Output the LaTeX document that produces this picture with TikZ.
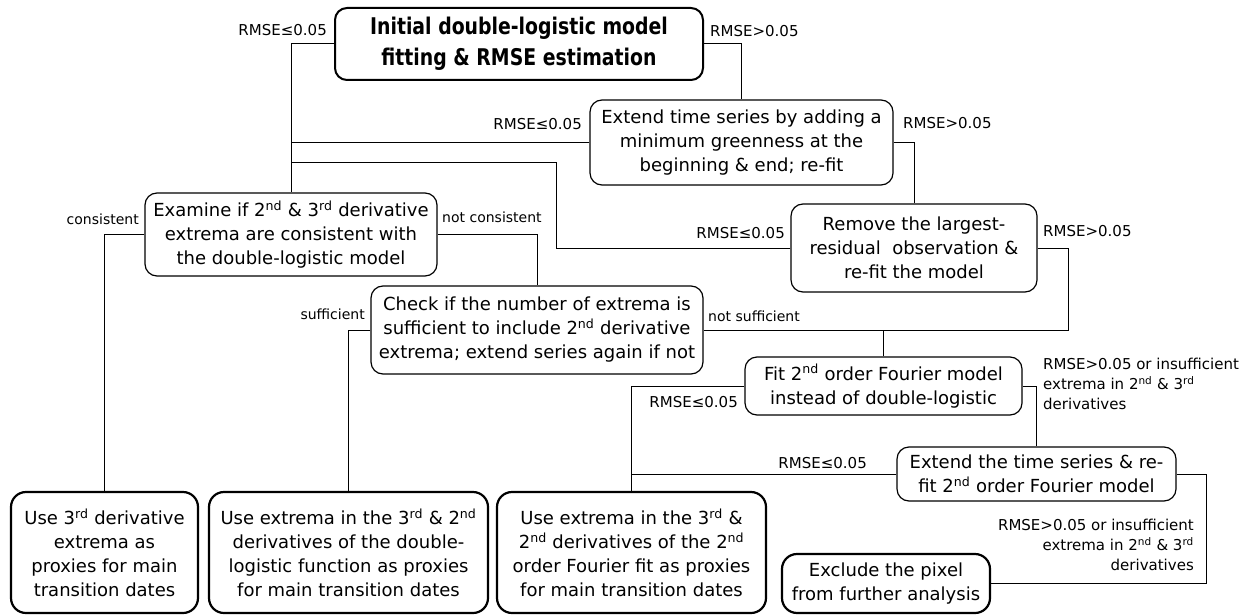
\documentclass[tikz,border=0pt]{standalone}
\usepackage{fontspec}
\setmainfont{DejaVu Sans}
\newfontfamily\titlefont{DejaVu Sans}[FakeStretch=0.82]
\begin{document}
\begin{tikzpicture}[x=1pt,y=-1pt,
  box/.style={draw=black, line width=1.2pt, rounded corners=12pt, fill=white, inner sep=0pt, align=center,
    font=\fontsize{18}{24}\selectfont},
  endbox/.style={box, line width=2.2pt, rounded corners=15pt},
  titlebox/.style={box, line width=2pt, font=\titlefont\bfseries\fontsize{23}{31}\selectfont},
  conn/.style={draw=black, line width=1pt},
  lbl/.style={inner sep=0pt, font=\fontsize{15}{20}\selectfont},
  wlbl/.style={inner sep=0pt, font=\fontsize{14}{20}\selectfont},
]
\useasboundingbox (0,0) rectangle (1249,615);

% boxes
\node[titlebox, minimum width=368pt, minimum height=72pt] (init) at (519,44)
  {Initial double-logistic model\\fitting \& RMSE estimation};
\node[box, minimum width=303pt, minimum height=85pt] (ext1) at (741.5,142.5)
  {Extend time series by adding a\\minimum greenness at the\\beginning \& end; re-fit};
\node[box, minimum width=246pt, minimum height=88pt] (remove) at (914,248)
  {Remove the largest-\\residual\ \ observation \&\\re-fit the model};
\node[box, minimum width=292pt, minimum height=83pt] (examine) at (291,234.5)
  {Examine if 2\textsuperscript{nd} \& 3\textsuperscript{rd} derivative\\extrema are consistent with\\the double-logistic model};
\node[box, minimum width=332pt, minimum height=88pt] (check) at (537,330)
  {Check if the number of extrema is\\sufficient to include 2\textsuperscript{nd} derivative\\extrema; extend series again if not};
\node[box, minimum width=277pt, minimum height=58pt] (fit) at (883.5,386)
  {Fit 2\textsuperscript{nd} order Fourier model\\instead of double-logistic};
\node[box, minimum width=279pt, minimum height=54pt] (ext2) at (1036.5,474)
  {Extend the time series \& re-\\fit 2\textsuperscript{nd} order Fourier model};
\node[endbox, minimum width=187pt, minimum height=121pt] (use3) at (104.5,552.5)
  {Use 3\textsuperscript{rd} derivative\\extrema as\\proxies for main\\transition dates};
\node[endbox, minimum width=279pt, minimum height=121pt] (usedl) at (348.5,552.5)
  {Use extrema in the 3\textsuperscript{rd} \& 2\textsuperscript{nd}\\derivatives of the double-\\logistic function as proxies\\for main transition dates};
\node[endbox, minimum width=269pt, minimum height=121pt] (usef) at (631.5,552.5)
  {Use extrema in the 3\textsuperscript{rd} \&\\2\textsuperscript{nd} derivatives of the 2\textsuperscript{nd}\\order Fourier fit as proxies\\for main transition dates};
\node[endbox, minimum width=208pt, minimum height=59pt] (exclude) at (886,583.5)
  {Exclude the pixel\\from further analysis};

% helper coordinates
\coordinate (rj) at (556,162);
\coordinate (rrx) at (1068,0);
\coordinate (erx) at (1206,0);

% connectors
\draw[conn] (init.west) -| (examine.north);
\draw[conn] (init.east) -| (ext1.north);
\draw[conn] (ext1.west) -- (ext1.west -| examine.north);
\draw[conn] (ext1.east) -| (remove.north);
\draw[conn] (remove.west) -| (rj) -- (rj -| examine.north);
\draw[conn] (remove.east) -| (rrx |- check.east) -- (check.east);
\draw[conn] (fit.north) -- (fit.north |- check.east);
\draw[conn] (examine.west) -| (use3.north);
\draw[conn] (examine.east) -| (check.north);
\draw[conn] (check.west) -| (usedl.north);
\draw[conn] (fit.west) -| (usef.north);
\draw[conn] (ext2.west) -- (ext2.west -| usef.north);
\draw[conn] (fit.east) -| (ext2.north);
\draw[conn] (ext2.east) -| (erx |- exclude.east) -- (exclude.east);

% labels
\node[lbl, anchor=east] (l1) at (327,30) {RMSE≤0.05};
\node[lbl, anchor=west] (l2) at (710,31) {RMSE>0.05};
\node[lbl, anchor=east] (l3) at (582,124) {RMSE≤0.05};
\node[lbl, anchor=west] (l4) at (903,123) {RMSE>0.05};
\node[lbl, anchor=east] (l5) at (785,233) {RMSE≤0.05};
\node[lbl, anchor=west] (l6) at (1043,231) {RMSE>0.05};
\node[wlbl, anchor=east] (l7) at (139,219) {consistent};
\node[wlbl, anchor=west] (l8) at (442,217) {not consistent};
\node[wlbl, anchor=east] (l9) at (365,314) {sufficient};
\node[wlbl, anchor=west] (l10) at (708,316) {not sufficient};
\node[lbl, anchor=east] (l11) at (738,402) {RMSE≤0.05};
\node[lbl, anchor=north west, align=left] (l12) at (1043,358)
  {RMSE>0.05 or insufficient\\extrema in 2\textsuperscript{nd} \& 3\textsuperscript{rd}\\derivatives};
\node[lbl, anchor=east] (l13) at (867,463) {RMSE≤0.05};
\node[lbl, anchor=north east, align=right] (l14) at (1194,519)
  {RMSE>0.05 or insufficient\\extrema in 2\textsuperscript{nd} \& 3\textsuperscript{rd}\\derivatives};
\end{tikzpicture}
\end{document}
